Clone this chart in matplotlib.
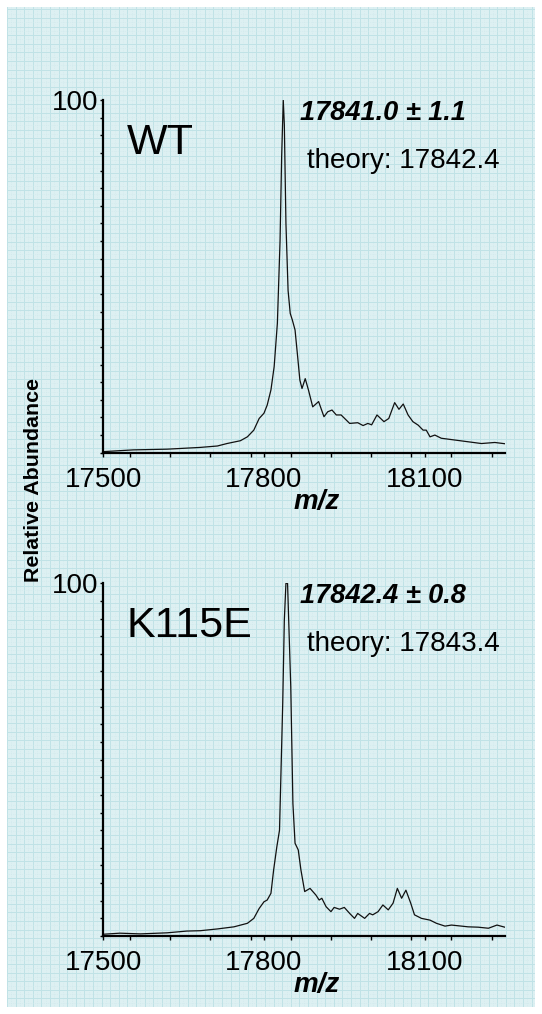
import numpy as np
import matplotlib
matplotlib.use('Agg')
import matplotlib.pyplot as plt
from matplotlib.ticker import MultipleLocator, FixedLocator, NullFormatter

plt.rcParams['font.family'] = ['Liberation Sans', 'DejaVu Sans']

# ---- spectra (m/z, relative abundance %) ----
wt_mz = [17500, 17556, 17619, 17644, 17681, 17713, 17731, 17756, 17769, 17781,
         17791, 17800, 17806, 17813, 17819, 17825, 17830, 17833, 17836, 17838,
         17841, 17845, 17849, 17853, 17858, 17863, 17867, 17871, 17877, 17883,
         17891, 17902, 17912, 17919, 17927, 17935, 17944, 17960, 17975, 17985,
         17994, 18001, 18011, 18024, 18033, 18044, 18052, 18060, 18069, 18078,
         18088, 18097, 18103, 18110, 18119, 18131, 18156, 18181, 18206, 18231, 18252]
wt_ab = [0.3, 0.8, 1.0, 1.2, 1.5, 1.9, 2.6, 3.4, 4.5, 6.4,
         9.7, 11.2, 13.5, 17.8, 24.4, 36.7, 60.0, 84.0, 100.0, 93.0,
         65.0, 46.0, 39.5, 37.6, 34.8, 27.0, 20.6, 18.2, 21.0, 17.8,
         13.0, 14.5, 10.2, 11.6, 12.1, 10.7, 10.7, 8.3, 8.5, 7.7,
         8.3, 7.9, 10.7, 8.8, 9.7, 14.2, 12.3, 13.8, 10.7, 8.8,
         7.8, 6.4, 6.4, 4.5, 5.0, 4.1, 3.6, 3.1, 2.6, 2.9, 2.5]

k_mz = [17500, 17531, 17569, 17619, 17656, 17681, 17713, 17744, 17769, 17781,
        17791, 17800, 17806, 17813, 17818, 17824, 17829, 17835, 17838, 17841,
        17844, 17850, 17854, 17858, 17864, 17869, 17876, 17886, 17897, 17903,
        17908, 17916, 17925, 17931, 17941, 17950, 17960, 17969, 17975, 17988,
        17997, 18003, 18013, 18022, 18032, 18041, 18049, 18057, 18065, 18074,
        18081, 18094, 18110, 18122, 18138, 18150, 18169, 18181, 18200, 18219,
        18235, 18252]
k_ab = [0.5, 0.8, 0.6, 0.9, 1.4, 1.5, 2.0, 2.6, 3.6, 5.0,
        7.8, 9.7, 10.2, 12.1, 18.7, 25.3, 30.0, 66.0, 89.6, 100.0,
        100.0, 70.7, 37.6, 26.3, 24.4, 18.7, 12.6, 13.5, 11.6, 10.2,
        10.7, 8.3, 6.9, 8.1, 7.6, 8.1, 6.4, 5.0, 6.4, 5.0,
        6.4, 6.0, 6.9, 8.8, 7.4, 9.3, 13.5, 10.7, 13.0, 9.3,
        6.0, 5.0, 4.5, 3.6, 2.8, 3.1, 2.8, 2.6, 2.5, 2.2,
        3.1, 2.4]

panels = [
    dict(mz=wt_mz, ab=wt_ab, name='WT', meas='17841.0 \u00b1 1.1', theo='theory: 17842.4'),
    dict(mz=k_mz, ab=k_ab, name='K115E', meas='17842.4 \u00b1 0.8', theo='theory: 17843.4'),
]

W, H = 542, 1014
fig = plt.figure(figsize=(W / 100, H / 100), dpi=100)
fig.patch.set_facecolor('white')

def fx(x): return x / W
def fy(y): return 1 - y / H

# graph-paper background
bg = fig.add_axes([fx(7), fy(H - 7), fx(W - 14), (H - 14) / H], zorder=0)
bg.set_facecolor('#ddf0f2')
bg.set_xlim(0, W - 14); bg.set_ylim(0, H - 14)
bg.xaxis.set_major_locator(MultipleLocator(8.6))
bg.yaxis.set_major_locator(MultipleLocator(8.6))
bg.xaxis.set_minor_locator(MultipleLocator(4.3))
bg.yaxis.set_minor_locator(MultipleLocator(4.3))
bg.grid(which='major', color='#c0e2e6', lw=0.7)
bg.grid(which='minor', color='#cfe9ec', lw=0.5, ls=':')
bg.tick_params(which='both', length=0, labelbottom=False, labelleft=False)
for s in bg.spines.values():
    s.set_visible(False)

# (top px of 100-line, bottom px of axis)
boxes = [(100.0, 452.7), (583.3, 936.0)]
x0, x1 = 103.3, 505.0

for p, (ytop, ybot) in zip(panels, boxes):
    ax = fig.add_axes([fx(x0), fy(ybot), (x1 - x0) / W, (ybot - ytop) / H], zorder=2)
    ax.patch.set_alpha(0)
    ax.plot(p['mz'], p['ab'], color='#111111', lw=0.9)
    ax.set_xlim(17500, 18250)
    ax.set_ylim(0, 100)
    for s in ['top', 'right']:
        ax.spines[s].set_visible(False)
    for s in ['left', 'bottom']:
        ax.spines[s].set_linewidth(1.6)
    ax.xaxis.set_major_locator(FixedLocator([17500, 17800, 18100]))
    ax.xaxis.set_minor_locator(MultipleLocator(75))
    ax.yaxis.set_major_locator(FixedLocator([100]))
    ax.yaxis.set_minor_locator(MultipleLocator(5))
    ax.tick_params(axis='x', which='both', direction='out', length=3, width=1, pad=7, labelsize=20)
    ax.tick_params(axis='y', which='both', direction='out', length=2.5, width=1, pad=1, labelsize=20)
    ax.xaxis.set_minor_formatter(NullFormatter())

    fig.text(fx(127), fy(ytop + 54), p['name'], fontsize=31, va='baseline', ha='left')
    fig.text(fx(300), fy(ytop + 20), p['meas'], fontsize=19.5, fontweight='bold',
             fontstyle='italic', va='baseline', ha='left')
    fig.text(fx(307), fy(ytop + 68), p['theo'], fontsize=20, va='baseline', ha='left')
    fig.text(fx(317), fy(ybot + 56), 'm/z', fontsize=20, fontweight='bold',
             fontstyle='italic', va='baseline', ha='center')

fig.text(fx(34), fy(480), 'Relative Abundance', fontsize=15.4, fontweight='bold',
         rotation=90, va='center', ha='center')

fig.savefig('out.png', dpi=100)
